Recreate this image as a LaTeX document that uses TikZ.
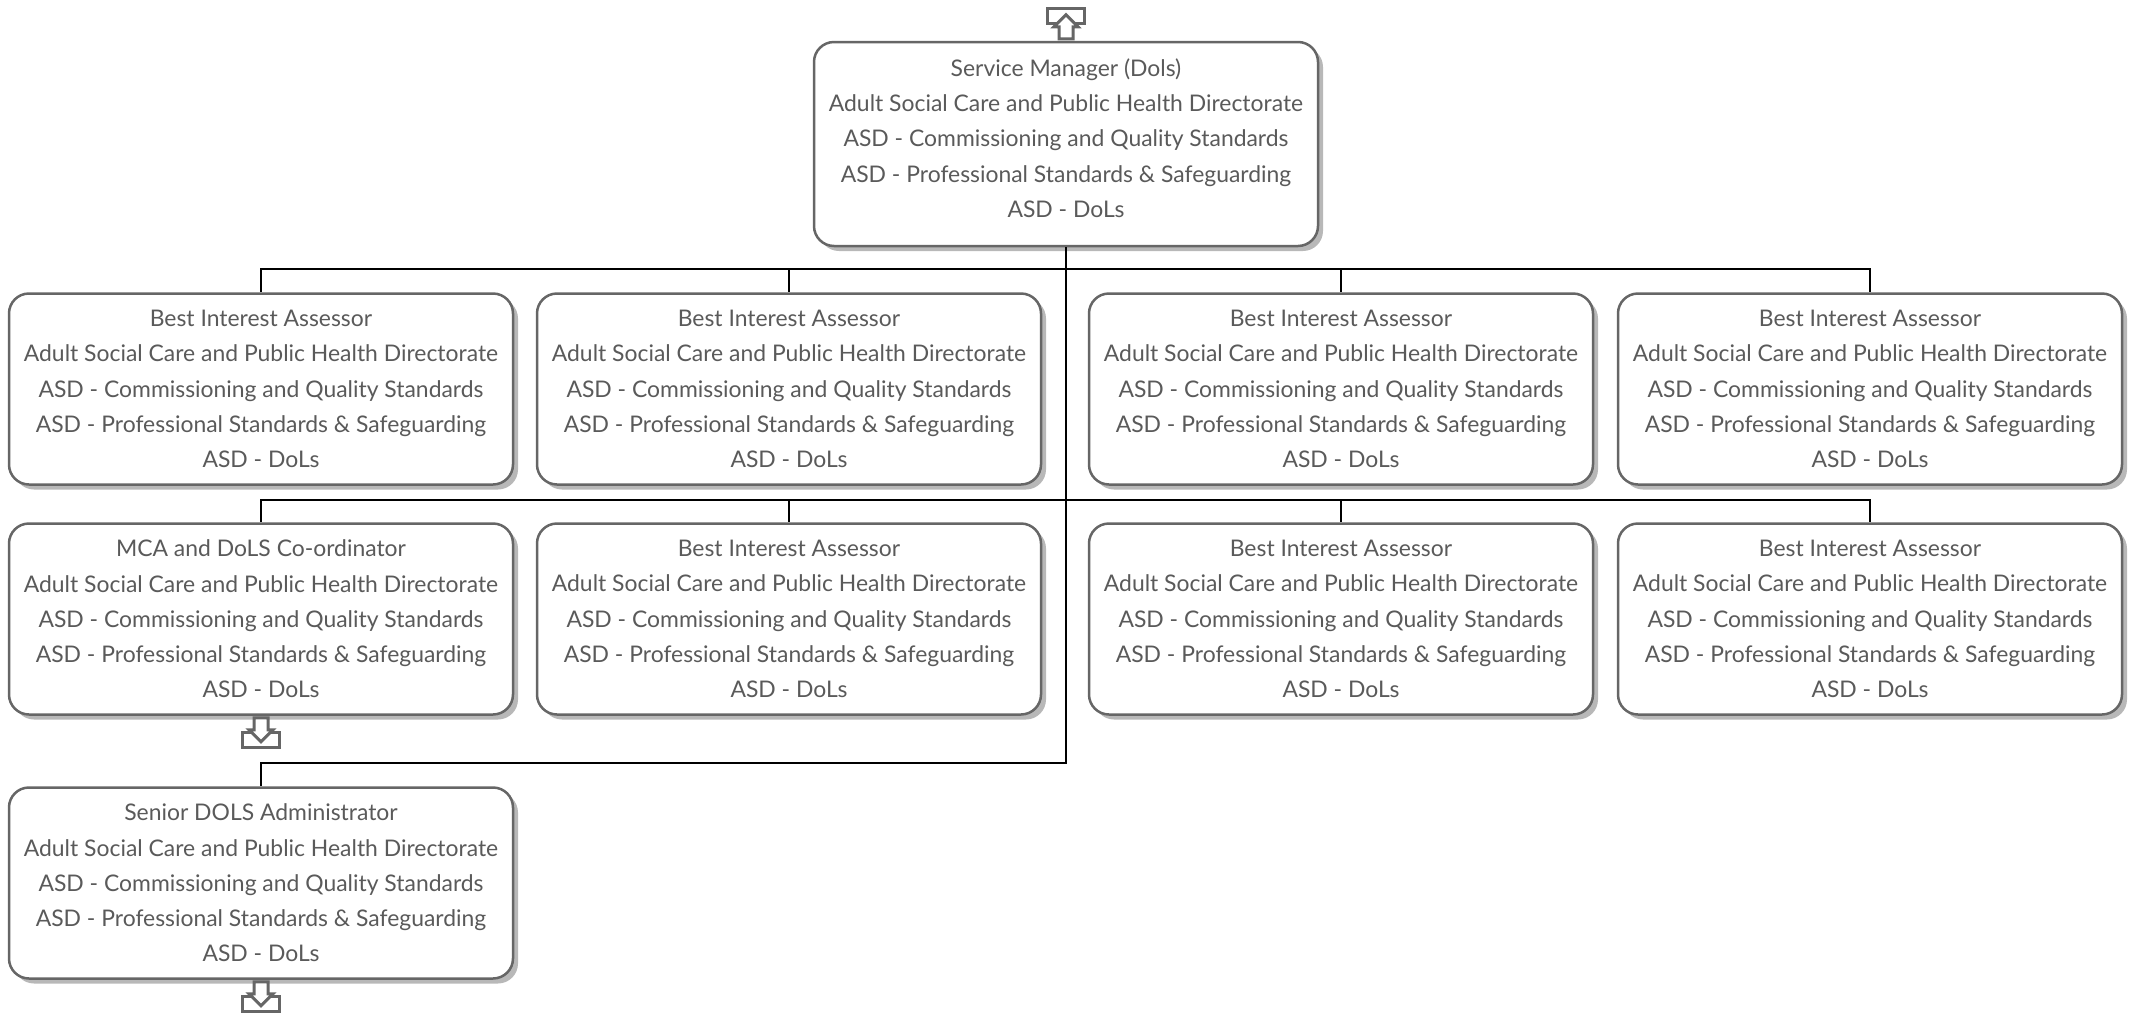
\documentclass[tikz,border=0pt]{standalone}
\usepackage{fontspec}
\setmainfont{Lato}
\usetikzlibrary{shadows}
\definecolor{boxline}{HTML}{666666}
\definecolor{boxshade}{HTML}{B8B8B8}
\definecolor{boxtext}{HTML}{5A5A5A}
\newcommand{\deptlines}{\\Adult Social Care and Public Health Directorate\\ASD - Commissioning and Quality Standards\\ASD - Professional Standards \& Safeguarding\\ASD - DoLs}
\tikzset{
  postbox/.style={draw=boxline, line width=1.25pt, fill=white, rounded corners=10pt,
    minimum width=252pt, minimum height=95.5pt, align=center, text=boxtext,
    font=\fontsize{11.45}{17.6}\selectfont, inner sep=0pt,
    drop shadow={shadow xshift=2.5pt, shadow yshift=-2.5pt, fill=boxshade, opacity=1}},
  orgline/.style={draw=black, line width=1.1pt},
  linkicon/.pic={
    \draw[boxline, line width=1.5pt, fill=white] (-18.5,17) rectangle (18.5,32);
    \draw[boxline, line width=1.5pt, fill=white] (-7,2) -- (7,2) -- (7,14) -- (12,14) -- (0,26) -- (-12,14) -- (-7,14) -- cycle;
  }
}
\begin{document}
\begin{tikzpicture}[x=0.5pt, y=-0.5pt]
  \useasboundingbox (0,0) rectangle (2138,1013);
  \node[postbox, minimum height=102pt, text depth=6pt] (manager) at (1066,144) {Service Manager (Dols)\deptlines};
  \node[postbox] (biaa) at (261,389) {Best Interest Assessor\deptlines};
  \node[postbox] (biab) at (789,389) {Best Interest Assessor\deptlines};
  \node[postbox] (biac) at (1341,389) {Best Interest Assessor\deptlines};
  \node[postbox] (biad) at (1870,389) {Best Interest Assessor\deptlines};
  \node[postbox] (mca) at (261,619) {MCA and DoLS Co-ordinator\deptlines};
  \node[postbox] (biae) at (789,619) {Best Interest Assessor\deptlines};
  \node[postbox] (biaf) at (1341,619) {Best Interest Assessor\deptlines};
  \node[postbox] (biag) at (1870,619) {Best Interest Assessor\deptlines};
  \node[postbox] (admin) at (261,883) {Senior DOLS Administrator\deptlines};
  \coordinate (busa) at (1066,269);
  \coordinate (busb) at (1066,500);
  \coordinate (busc) at (1066,763);
  \draw[orgline] (manager.south) -- (busc) -| (admin.north);
  \draw[orgline] (busa) -| (biaa.north);
  \draw[orgline] (busa) -| (biab.north);
  \draw[orgline] (busa) -| (biac.north);
  \draw[orgline] (busa) -| (biad.north);
  \draw[orgline] (busb) -| (mca.north);
  \draw[orgline] (busb) -| (biae.north);
  \draw[orgline] (busb) -| (biaf.north);
  \draw[orgline] (busb) -| (biag.north);
  \pic[yscale=-1] at (manager.north) {linkicon};
  \pic at (mca.south) {linkicon};
  \pic at (admin.south) {linkicon};
\end{tikzpicture}
\end{document}
